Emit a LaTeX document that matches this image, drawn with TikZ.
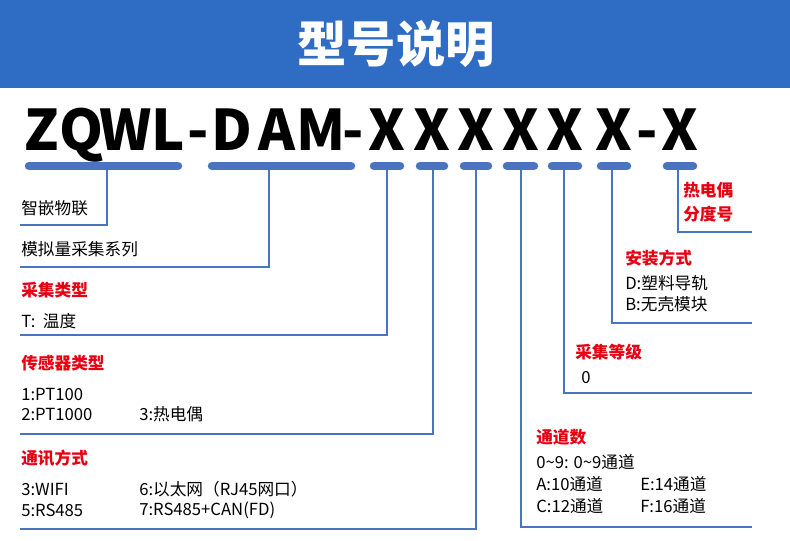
\documentclass[tikz,border=0pt]{standalone}
\usepackage{fontspec}
\setmainfont{Noto Sans CJK SC}
\usepackage{xcolor}
\definecolor{headblue}{HTML}{2F6CC4}
\definecolor{lineblue}{HTML}{4A74C0}
\definecolor{tagred}{HTML}{E60012}
\tikzset{
  bar/.style={line width=8.5pt*0.75, line cap=round, lineblue},
  lead/.style={line width=2.2pt*0.75, lineblue},
  ch/.style={inner sep=0pt, font=\fontsize{42}{42}\bfseries\selectfont},
  ttl/.style={anchor=west, inner sep=0.75pt, text=tagred, font=\fontsize{12.5}{14}\bfseries\selectfont},
  txt/.style={anchor=west, inner sep=0.75pt, font=\fontsize{12.5}{14}\selectfont},
}
\begin{document}
\begin{tikzpicture}[x=0.75pt,y=0.75pt,yscale=-1,xscale=1]
\useasboundingbox (0,0) rectangle (790,540);
% header
\fill[headblue] (0,0) rectangle (790,88);
\node[text=white, font=\fontsize{37}{40}\bfseries\selectfont] (head) at (396,44) {型号说明};
% model code
\foreach \c/\x in {Z/42,Q/82,W/126,L/168,-/198,D/232,A/277,M/321,-/353,X/387,X/432,X/476,X/521,X/565,X/614,-/647,X/680}
  \node[ch, anchor=base] at (\x,150) {\c};
% bars
\draw[bar] (29,166) -- (178,166);
\draw[bar] (212,166) -- (351,166);
\foreach \a/\b in {374/400,420/444,464/488,507/534,552/578,601/627,667/693}
  \draw[bar] (\a,166) -- (\b,166);
% leaders
\draw[lead] (107,166) -- (107,225) -- (20,225);
\draw[lead] (269,166) -- (269,267) -- (20,267);
\draw[lead] (387,166) -- (387,335) -- (20,335);
\draw[lead] (433,166) -- (433,434) -- (20,434);
\draw[lead] (476,166) -- (476,529) -- (20,529);
\draw[lead] (521,166) -- (521,527) -- (752,527);
\draw[lead] (564,166) -- (564,393) -- (752,393);
\draw[lead] (612,166) -- (612,323) -- (752,323);
\draw[lead] (678,166) -- (678,232) -- (752,232);
% left labels
\node[txt] (brand) at (20,208) {智嵌物联};
\node[txt] (series) at (20,249) {模拟量采集系列};
\node[ttl] (typeT) at (20,290) {采集类型};
\node[txt] (typeV) at (20,321) {T:\ \ 温度};
\node[ttl] (sensT) at (20,363) {传感器类型};
\node[txt] (sens1) at (20,394) {1:PT100};
\node[txt] (sens2) at (20,414) {2:PT1000};
\node[txt] (sens3) at (138,414) {3:热电偶};
\node[ttl] (commT) at (20,458) {通讯方式};
\node[txt] (comm3) at (20,489) {3:WIFI};
\node[txt] (comm6) at (138,489) {6:以太网（RJ45网口）};
\node[txt] (comm5) at (20,510) {5:RS485};
\node[txt] (comm7) at (138,510) {7:RS485+CAN(FD)};
% right labels
\node[ttl] (tcT1) at (682,190) {热电偶};
\node[ttl] (tcT2) at (682,214) {分度号};
\node[ttl] (mntT) at (624,258) {安装方式};
\node[txt] (mntD) at (624,283) {D:塑料导轨};
\node[txt] (mntB) at (624,304) {B:无壳模块};
\node[ttl] (lvlT) at (574,352) {采集等级};
\node[txt] (lvl0) at (580,378) {0};
\node[ttl] (chT) at (535,437) {通道数};
\node[txt] (ch0) at (535,462) {0\textasciitilde9: 0\textasciitilde9通道};
\node[txt] (chA) at (535,484) {A:10通道};
\node[txt] (chE) at (639,484) {E:14通道};
\node[txt] (chC) at (535,506) {C:12通道};
\node[txt] (chF) at (639,506) {F:16通道};
\end{tikzpicture}
\end{document}
